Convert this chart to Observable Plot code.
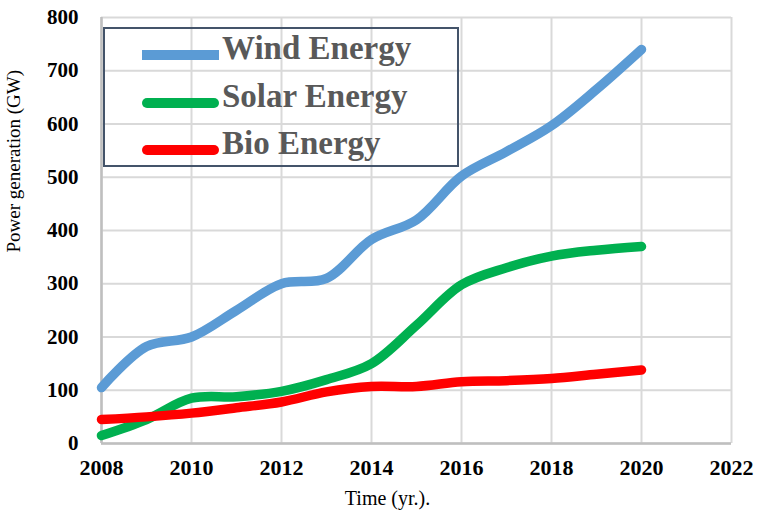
<!DOCTYPE html>
<html>
<head>
<meta charset="utf-8">
<script src="https://cdn.jsdelivr.net/npm/d3@7"></script>
<script src="https://cdn.jsdelivr.net/npm/@observablehq/plot@0.6"></script>
<style>
  html, body { margin: 0; padding: 0; background: #fff; }
  #wrap { position: relative; width: 761px; height: 514px; }
  .legend { position: absolute; left: 103px; top: 27px; width: 352px; height: 136px;
            border: 2px solid #44546A; box-sizing: content-box; }
  .item { position: absolute; left: 0; height: 40px; }
  .swatch { position: absolute; left: 37px; width: 77px; height: 10px; border-radius: 5px; }
  .lab { position: absolute; left: 117px; font: bold 33px "Liberation Serif", "Times New Roman", serif;
         color: #595959; white-space: nowrap; }
</style>
</head>
<body>
<div id="wrap"></div>
<script>
const years = [2008, 2009, 2010, 2011, 2012, 2013, 2014, 2015, 2016, 2017, 2018, 2019, 2020];
const wind  = [105, 182, 200, 250, 300, 310, 383, 420, 502, 548, 597, 665, 740];
const solar = [15, 45, 85, 88, 98, 120, 150, 222, 298, 330, 352, 363, 370];
const bio   = [45, 50, 57, 67, 78, 97, 107, 107, 116, 118, 122, 130, 138];
const seriesNames = ["Wind Energy", "Solar Energy", "Bio Energy"];
const seriesColors = ["#5B9BD5", "#00B050", "#FF0000"];
const xTicks = [2008, 2010, 2012, 2014, 2016, 2018, 2020, 2022];
const yTicks = [0, 100, 200, 300, 400, 500, 600, 700, 800];
const yTitle = "Power generation (GW)";
const xTitle = "Time (yr.).";

const seriesValues = [wind, solar, bio];
const data = [];
seriesNames.forEach((name, i) => {
  years.forEach((yr, j) => data.push({series: name, year: yr, value: seriesValues[i][j]}));
});

const serif = "'Liberation Serif', 'Times New Roman', serif";

const chart = Plot.plot({
  width: 761,
  height: 514,
  marginLeft: 101,
  marginRight: 30,
  marginTop: 17,
  marginBottom: 71,
  style: { fontFamily: serif, background: "#fff", overflow: "visible" },
  x: { domain: [2008, 2022], ticks: xTicks, tickFormat: d => String(d) },
  y: { domain: [0, 800], ticks: yTicks },
  color: { domain: seriesNames, range: seriesColors },
  marks: [
    Plot.ruleX(xTicks, { stroke: "#d9d9d9", strokeWidth: 2 }),
    Plot.ruleY(yTicks, { stroke: "#d9d9d9", strokeWidth: 2 }),
    Plot.ruleX([2008], { stroke: "#bfbfbf", strokeWidth: 2.5 }),
    Plot.ruleY([0], { stroke: "#bfbfbf", strokeWidth: 2.5 }),
    Plot.axisY({ ticks: yTicks, tickSize: 0, tickPadding: 23, fontSize: 21, fontWeight: "bold", fill: "#000", label: null }),
    Plot.axisX({ ticks: xTicks, tickSize: 0, tickPadding: 16, fontSize: 22, fontWeight: "bold", fill: "#000",
                 tickFormat: d => String(d), label: null }),
    Plot.text([yTitle], { text: d => d, frameAnchor: "left", dx: -88, dy: 22, rotate: -90,
                          fontSize: 19, fill: "#000" }),
    Plot.text([xTitle], { text: d => d, frameAnchor: "bottom", dx: -29, dy: 61,
                          fontSize: 20, fill: "#000" }),
    Plot.line(data, { x: "year", y: "value", z: "series", stroke: "series", strokeWidth: 9.5,
                      curve: "catmull-rom", strokeLinecap: "round", strokeLinejoin: "round" })
  ]
});

const wrap = document.getElementById("wrap");
wrap.appendChild(chart);

const legend = document.createElement("div");
legend.className = "legend";
const tops = [7, 55, 102];
seriesNames.forEach((name, i) => {
  const item = document.createElement("div");
  item.className = "item";
  item.style.top = tops[i] + "px";
  const sw = document.createElement("div");
  sw.className = "swatch";
  sw.style.background = seriesColors[i];
  sw.style.top = "14px";
  if (i === 0) sw.style.borderRadius = "0";
  const lab = document.createElement("div");
  lab.className = "lab";
  lab.textContent = name;
  lab.style.top = "-6px";
  item.appendChild(sw);
  item.appendChild(lab);
  legend.appendChild(item);
});
wrap.appendChild(legend);
</script>
</body>
</html>
